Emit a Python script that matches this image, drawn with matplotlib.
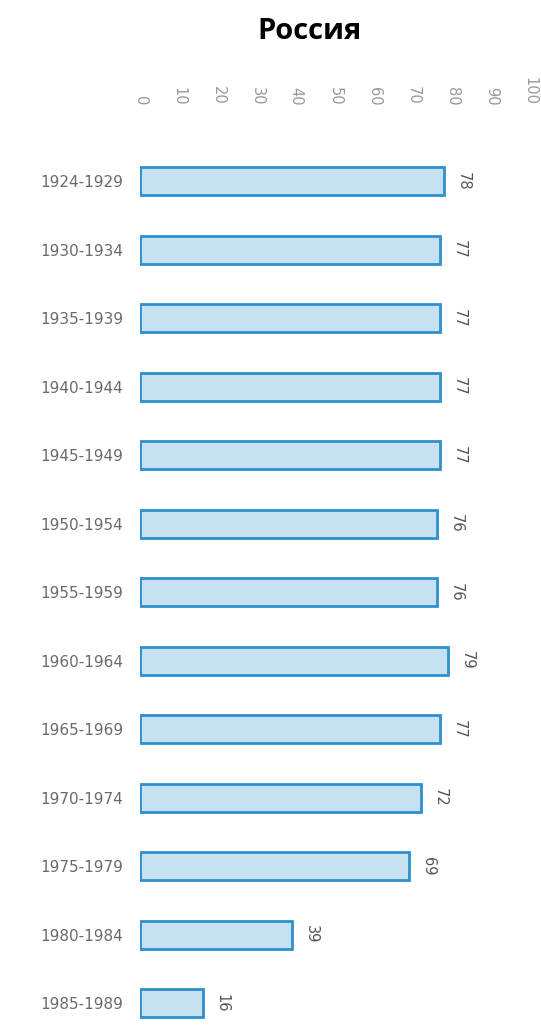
import numpy as np
import matplotlib.pyplot as plt

periods = ['1924-1929', '1930-1934', '1935-1939', '1940-1944', '1945-1949',
           '1950-1954', '1955-1959', '1960-1964', '1965-1969', '1970-1974',
           '1975-1979', '1980-1984', '1985-1989']
values = [78, 77, 77, 77, 77, 76, 76, 79, 77, 72, 69, 39, 16]
xticks = [0, 10, 20, 30, 40, 50, 60, 70, 80, 90, 100]

fig = plt.figure(figsize=(5.41, 10.34), dpi=100)
ax = fig.add_axes([0.259, 0.0, 0.721, 0.858])

y = np.arange(len(periods))
ax.barh(y, values, height=0.41, color='#c6e1f2', edgecolor='#2f8fcf', linewidth=2)

for yi, v in zip(y, values):
    ax.text(v + 3.0, yi, str(v), rotation=-90, va='center', ha='left',
            fontsize=10.5, color='#555555')

ax.set_xlim(0, 100)
ax.set_ylim(12.45, -0.5)
ax.set_yticks(y)
ax.set_yticklabels(periods, fontsize=11, color='#6a6a6a')
ax.set_xticks(xticks)
ax.set_xticklabels([str(t) for t in xticks], rotation=-90, fontsize=10.5, color='#999999')
ax.xaxis.tick_top()
ax.tick_params(axis='y', length=0, pad=12)
ax.tick_params(axis='x', length=0, pad=30)
for s in ax.spines.values():
    s.set_visible(False)

fig.text(0.573, 0.97, 'Россия', ha='center', va='center', fontsize=21,
         fontweight='bold', family='Open Sans')

plt.savefig('out.png', dpi=100)
